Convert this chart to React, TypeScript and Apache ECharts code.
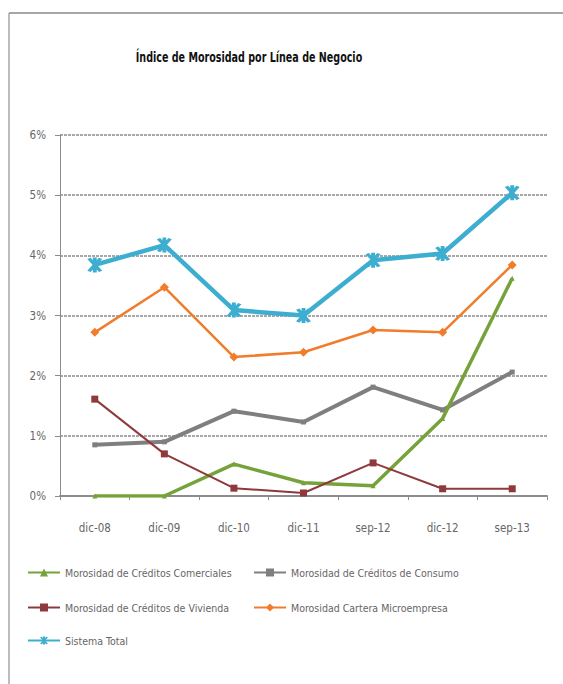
import React, { useEffect, useRef } from "react";
import * as echarts from "echarts";

const categories = ["dic-08", "dic-09", "dic-10", "dic-11", "sep-12", "dic-12", "sep-13"];
const comerciales = [0.0, 0.0, 0.53, 0.22, 0.17, 1.29, 3.62];
const consumo = [0.85, 0.9, 1.41, 1.23, 1.81, 1.43, 2.06];
const vivienda = [1.61, 0.7, 0.13, 0.05, 0.55, 0.12, 0.12];
const microempresa = [2.72, 3.47, 2.31, 2.39, 2.76, 2.72, 3.84];
const sistemaTotal = [3.84, 4.17, 3.09, 3.0, 3.92, 4.03, 5.04];

const names = [
  "Morosidad de Créditos Comerciales",
  "Morosidad de Créditos de Consumo",
  "Morosidad de Créditos de Vivienda",
  "Morosidad Cartera Microempresa",
  "Sistema Total",
];

const FONT = "'DejaVu Sans Condensed', 'Liberation Sans Narrow', 'Liberation Sans', sans-serif";
const ASTERISK =
  "path://M-1 -6h2v12h-2z M3.87 -4.7 L-2.13 5.7 L-3.87 4.7 L2.13 -5.7 Z M3.87 4.7 L2.13 5.7 L-3.87 -4.7 L-2.13 -5.7 Z";

export default function App() {
  const ref = useRef<HTMLDivElement>(null);
  useEffect(() => {
    if (!ref.current) return;
    document.body.style.margin = "0";
    document.body.style.overflow = "hidden";
    const chart = echarts.init(ref.current, undefined, { renderer: "svg" });
    const legendStyle = { fontFamily: FONT, fontSize: 10.5, color: "#666" };
    const mkLegend = (name: string, left: number, top: number) => ({
      data: [name],
      left,
      top,
      itemWidth: 32,
      itemHeight: 10,
      itemGap: 2,
      textStyle: legendStyle,
      padding: 0,
    });
    chart.setOption({
      animation: false,
      backgroundColor: "#fff",
      graphic: [
        { type: "line", shape: { x1: 9, y1: 13, x2: 563, y2: 13 }, style: { stroke: "#a6a6a6", lineWidth: 2 } },
        { type: "line", shape: { x1: 9, y1: 13, x2: 9, y2: 684 }, style: { stroke: "#a6a6a6", lineWidth: 1.5 } },
        {
          type: "text",
          x: 249,
          y: 57,
          scaleX: 0.76,
          originX: 0,
          originY: 0,
          style: {
            text: "Índice de Morosidad por Línea de Negocio",
            fontFamily: FONT,
            fontWeight: "bold",
            fontSize: 14,
            fill: "#111",
            textAlign: "center",
            textVerticalAlign: "middle",
          },
        },
      ],
      legend: [
        mkLegend(names[0], 27, 567),
        mkLegend(names[1], 253, 567),
        mkLegend(names[2], 27, 602),
        mkLegend(names[3], 253, 602),
        mkLegend(names[4], 27, 635),
      ],
      grid: { left: 60, right: 16, top: 135, bottom: 188 },
      xAxis: {
        type: "category",
        data: categories,
        boundaryGap: true,
        axisLine: { lineStyle: { color: "#8c8c8c", width: 2 } },
        axisTick: { show: true, length: 4, alignWithLabel: false, lineStyle: { color: "#8c8c8c" } },
        axisLabel: { color: "#666", fontFamily: FONT, fontSize: 11.5, margin: 26 },
      },
      yAxis: {
        type: "value",
        min: 0,
        max: 6,
        interval: 1,
        axisLine: { show: true, lineStyle: { color: "#8c8c8c", width: 1 } },
        axisTick: { show: true, length: 5, lineStyle: { color: "#8c8c8c" } },
        axisLabel: { formatter: "{value}%", color: "#666", fontFamily: FONT, fontSize: 11.5, margin: 14 },
        splitLine: { lineStyle: { color: "#a8a8a8", width: 2, type: [3, 1] } },
      },
      series: [
        {
          name: names[0],
          type: "line",
          data: comerciales,
          color: "#76a23a",
          lineStyle: { width: 3.5 },
          symbol: "triangle",
          symbolSize: 5,
          z: 3,
        },
        {
          name: names[1],
          type: "line",
          data: consumo,
          color: "#7f7f7f",
          lineStyle: { width: 4 },
          symbol: "rect",
          symbolSize: 5,
          z: 2,
        },
        {
          name: names[2],
          type: "line",
          data: vivienda,
          color: "#8e3a3d",
          lineStyle: { width: 2 },
          symbol: "rect",
          symbolSize: 7,
          z: 4,
        },
        {
          name: names[3],
          type: "line",
          data: microempresa,
          color: "#f07c2c",
          lineStyle: { width: 2.5 },
          symbol: "diamond",
          symbolSize: 9,
          z: 5,
        },
        {
          name: names[4],
          type: "line",
          data: sistemaTotal,
          color: "#3eaed0",
          lineStyle: { width: 4.5 },
          symbol: ASTERISK,
          symbolSize: 15,
          z: 6,
        },
      ],
    });
    return () => chart.dispose();
  }, []);
  return <div ref={ref} style={{ width: 563, height: 684 }} />;
}
